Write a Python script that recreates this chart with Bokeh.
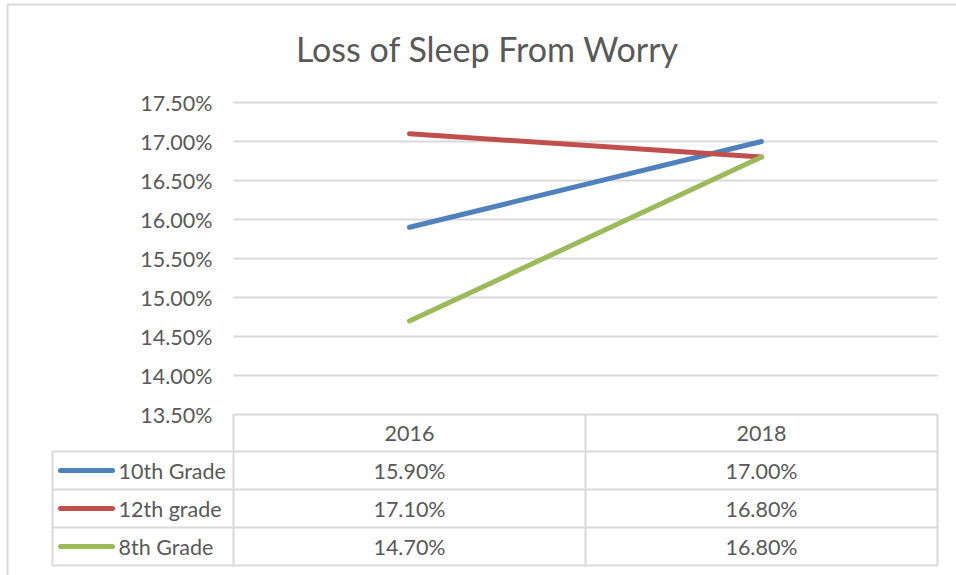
from bokeh.plotting import figure
from bokeh.models import Range1d
from bokeh.core.properties import value
from bokeh.embed import file_html
from bokeh.resources import INLINE

# ---- data ----
title = "Loss of Sleep From Worry"
years = ["2016", "2018"]
series_names = ["10th Grade", "12th grade", "8th Grade"]
grade10 = [0.159, 0.170]
grade12 = [0.171, 0.168]
grade8 = [0.147, 0.168]
y_ticks = [0.135, 0.140, 0.145, 0.150, 0.155, 0.160, 0.165, 0.170, 0.175]
colors = ["#4F81BD", "#C0504D", "#9BBB59"]
series = [grade10, grade12, grade8]

# ---- styling / layout (page pixels) ----
FONT = value("Lato")
TXT = "#595959"
GRID = "#D9D9D9"
FS = "21.5px"
W, H = 956, 575
PL, PR, PT, PB = 233, 937, 102, 414          # plot area
CAT_W = (PR - PL) / len(years)               # px per category
PX_PER_UNIT = (PB - PT) / (y_ticks[-1] - y_ticks[0])

x_start = -PL / CAT_W
y_end = y_ticks[-1] + PT / PX_PER_UNIT
x_range = Range1d(x_start, x_start + W / CAT_W)
y_range = Range1d(y_end - H / PX_PER_UNIT, y_end)

def X(px):
    return x_start + px / CAT_W

def Y(py):
    return y_end - py / PX_PER_UNIT

p = figure(width=W, height=H, output_backend="svg", toolbar_location=None,
           x_range=x_range, y_range=y_range, min_border=0, title=None)
p.axis.visible = False
p.grid.visible = False
p.outline_line_color = None
p.background_fill_color = "white"
p.border_fill_color = "white"

cat_x = [i + 0.5 for i in range(len(years))]
n = len(years)

# outer chart border (left, top)
p.segment(x0=[X(7), X(7)], y0=[Y(4), Y(4)], x1=[X(7), X(960)], y1=[Y(580), Y(4)],
          line_color=GRID, line_width=2)

# horizontal grid lines at the y ticks
p.segment(x0=[0] * len(y_ticks), x1=[n] * len(y_ticks), y0=y_ticks, y1=y_ticks,
          line_color=GRID, line_width=2)

# y tick labels
p.text(x=[X(212)] * len(y_ticks), y=y_ticks,
       text=[f"{t * 100:.2f}%" for t in y_ticks],
       text_font=FONT, text_font_size=FS, text_color=TXT,
       text_align="right", text_baseline="middle")

# series lines
for vals, c in zip(series, colors):
    p.line(x=cat_x, y=vals, line_color=c, line_width=5, line_cap="round")

# title
p.text(x=[X(487)], y=[Y(48)], text=[title], text_font=FONT, text_font_size="34px",
       text_color=TXT, text_align="center", text_baseline="middle")

# ---- data table ----
row_lines = [451, 489, 527, 565]
y_base = y_ticks[0]
# vertical column lines through header and rows
p.segment(x0=list(range(n + 1)), x1=list(range(n + 1)),
          y0=[y_base] * (n + 1), y1=[Y(row_lines[-1])] * (n + 1),
          line_color=GRID, line_width=2)
p.segment(x0=[X(52)], x1=[X(52)], y0=[Y(row_lines[0])], y1=[Y(row_lines[-1])],
          line_color=GRID, line_width=2)
p.segment(x0=[X(52)] * len(row_lines), x1=[n] * len(row_lines),
          y0=[Y(r) for r in row_lines], y1=[Y(r) for r in row_lines],
          line_color=GRID, line_width=2)

# header labels
p.text(x=cat_x, y=[Y((PB + row_lines[0]) / 2)] * n, text=years,
       text_font=FONT, text_font_size=FS, text_color=TXT,
       text_align="center", text_baseline="middle")

# rows
for i, (name, vals, c) in enumerate(zip(series_names, series, colors)):
    cy = Y((row_lines[i] + row_lines[i + 1]) / 2)
    p.segment(x0=[X(60)], x1=[X(112)], y0=[cy], y1=[cy], line_color=c,
              line_width=5, line_cap="round")
    p.text(x=[X(118)], y=[cy], text=[name], text_font=FONT, text_font_size=FS,
           text_color=TXT, text_align="left", text_baseline="middle")
    p.text(x=cat_x, y=[cy] * n, text=[f"{v * 100:.2f}%" for v in vals],
           text_font=FONT, text_font_size=FS, text_color=TXT,
           text_align="center", text_baseline="middle")

open("out.html", "w").write(file_html(p, INLINE))
